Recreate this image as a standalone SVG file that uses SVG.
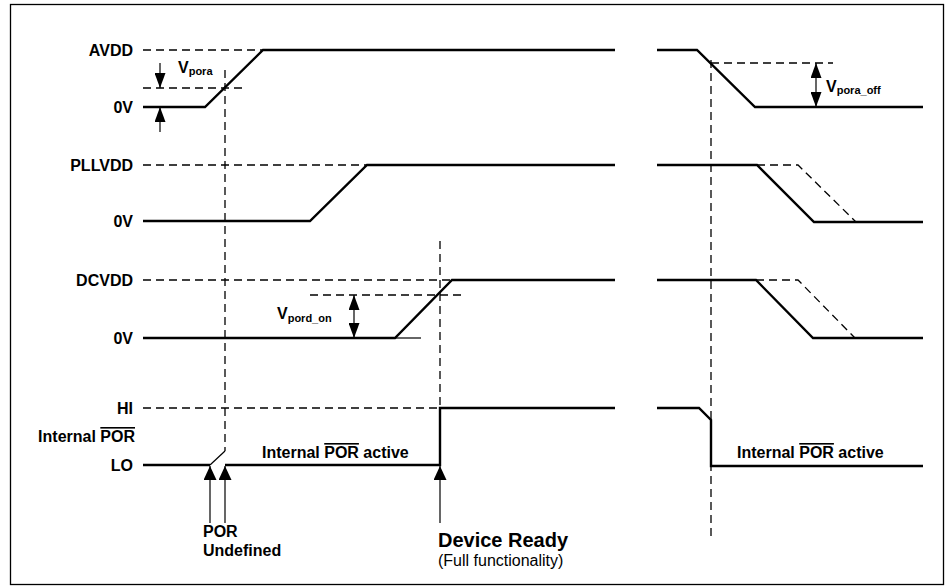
<svg xmlns="http://www.w3.org/2000/svg" width="950" height="588" viewBox="0 0 950 588">
<defs>
<style>
.sig{fill:none;stroke:#000;stroke-width:2.4;stroke-linejoin:miter}
.thin{fill:none;stroke:#000;stroke-width:1.2}
.dash{fill:none;stroke:#000;stroke-width:1.3;stroke-dasharray:8 5}
.lbl{font-family:"Liberation Sans",Arial,sans-serif;font-weight:bold;font-size:16px;fill:#000}
.sub{font-size:11px}
.ah{fill:#000}
</style>
<marker id="arr" viewBox="0 0 14 13" refX="14" refY="6.5" markerWidth="14" markerHeight="13" markerUnits="userSpaceOnUse" orient="auto-start-reverse">
<path d="M0,0 L14,6.5 L0,13 Z" class="ah"/>
</marker>
<marker id="arrS" viewBox="0 0 15 11" refX="15" refY="5.5" markerWidth="15" markerHeight="11" markerUnits="userSpaceOnUse" orient="auto-start-reverse">
<path d="M0,0 L15,5.5 L0,11 Z" class="ah"/>
</marker>
</defs>
<rect x="10.5" y="4.5" width="933" height="580" fill="#fff" stroke="#000" stroke-width="1.3"/>

<g id="labels">
<text class="lbl" x="133" y="55.5" text-anchor="end">AVDD</text>
<text class="lbl" x="133" y="112.5" text-anchor="end">0V</text>
<text class="lbl" x="133" y="170.5" text-anchor="end">PLLVDD</text>
<text class="lbl" x="133" y="226.5" text-anchor="end">0V</text>
<text class="lbl" x="133" y="285.5" text-anchor="end">DCVDD</text>
<text class="lbl" x="133" y="343.5" text-anchor="end">0V</text>
<text class="lbl" x="133" y="413.5" text-anchor="end">HI</text>
<text class="lbl" x="135" y="442" text-anchor="end">Internal <tspan text-decoration="overline">POR</tspan></text>
<text class="lbl" x="133" y="470.5" text-anchor="end">LO</text>
</g>

<g id="avdd">
<path class="dash" d="M143,50 H263"/>
<path class="sig" d="M143,107 H205 L263,50 H615"/>
<path class="sig" d="M657,50 H697 L755,107 H923"/>
</g>

<g id="pllvdd">
<path class="dash" d="M143,165 H367"/>
<path class="sig" d="M143,221 H310 L367,165 H615"/>
<path class="dash" d="M757,165 H798 L856,222"/>
<path class="sig" d="M657,165 H757 L814,222 H923"/>
</g>

<g id="dcvdd">
<path class="dash" d="M143,280 H452"/>
<path class="sig" d="M143,338 H395 L452,280 H615"/>
<path class="thin" d="M395,338 H421"/>
<path class="dash" d="M756,280 H798 L855,338"/>
<path class="sig" d="M657,280 H756 L813,338 H923"/>
</g>

<g id="por">
<path class="dash" d="M143,408 H440"/>
<path class="sig" d="M143,465 H210"/>
<path class="thin" d="M210,465 L225,451"/>
<path class="sig" d="M225,465 H440 V408 H615"/>
<path class="sig" d="M657,408 H699 L711,420 V466 H923"/>
<text class="lbl" x="262" y="458">Internal <tspan text-decoration="overline">POR</tspan> active</text>
<text class="lbl" x="737" y="458">Internal <tspan text-decoration="overline">POR</tspan> active</text>
</g>

<g id="vpora">
<path class="dash" d="M143,88 H243"/>
<path class="thin" d="M160,63 V88" marker-end="url(#arrS)"/>
<path class="thin" d="M160,132 V107" marker-end="url(#arrS)"/>
<text class="lbl" x="178" y="72.5">V<tspan class="sub" dy="2.5">pora</tspan></text>
</g>

<g id="vpora_off">
<path class="dash" d="M711,63 H833"/>
<path class="thin" d="M816,63 V107" marker-start="url(#arrS)" marker-end="url(#arrS)"/>
<text class="lbl" x="826" y="91.5">V<tspan class="sub" dy="2.5">pora_off</tspan></text>
</g>

<g id="vpord_on">
<path class="dash" d="M310,295 H462"/>
<path class="thin" d="M354,295 V338" marker-start="url(#arrS)" marker-end="url(#arrS)"/>
<text class="lbl" x="277" y="319">V<tspan class="sub" dy="2.5">pord_on</tspan></text>
</g>

<g id="connectors">
<path class="dash" d="M225,70 V451"/>
<path class="dash" d="M440,241 V408"/>
<path class="dash" d="M711,60 V540"/>
<path class="thin" d="M210,523 V466" marker-end="url(#arr)" stroke-width="1.6"/>
<path class="thin" d="M225,523 V466" marker-end="url(#arr)" stroke-width="1.6"/>
<path class="thin" d="M440,523 V466" marker-end="url(#arr)" stroke-width="1.6"/>
</g>

<g id="events">
<text class="lbl" x="203" y="537">POR</text>
<text class="lbl" x="203" y="556">Undefined</text>
<text class="lbl" x="438" y="547" style="font-size:20px">Device Ready</text>
<text x="438" y="566" style="font-family:'Liberation Sans',Arial,sans-serif;font-size:16px;fill:#000">(Full functionality)</text>
</g>
</svg>
